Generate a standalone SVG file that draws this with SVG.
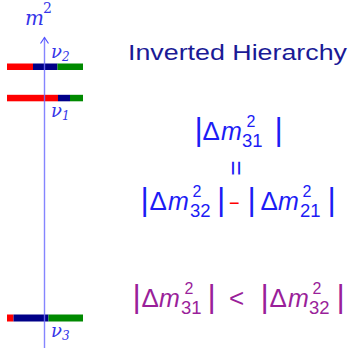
<svg xmlns="http://www.w3.org/2000/svg" width="352" height="348" viewBox="0 0 352 348">
<style>
.serif{font-family:"DejaVu Serif","Liberation Serif",serif;font-style:italic;fill:#3535e8}
.math{font-family:"Liberation Sans","DejaVu Sans",sans-serif;font-size:26px}
.bar{font-size:32px}
.sup{font-size:16px}
.sub{font-size:18.5px}
.it{font-style:italic;font-size:25px}
.blue{fill:#1c1cf5}
.purple{fill:#9a1f9a}
.red{fill:#ff0000}
.navy{fill:#000088}
.green{fill:#008a00}
</style>
<rect width="352" height="348" fill="#ffffff"/>
<g id="nu2">
<rect class="red" x="7" y="63.5" width="26" height="6.5"/>
<rect class="navy" x="33" y="63.5" width="24.5" height="6.5"/>
<rect class="green" x="57.5" y="63.5" width="25.5" height="6.5"/>
<text class="serif" x="51" y="58" font-size="18">ν<tspan font-size="12" dy="3">2</tspan></text>
</g>
<g id="nu1">
<rect class="red" x="7" y="94.8" width="51" height="6.5"/>
<rect class="navy" x="58" y="94.8" width="12" height="6.5"/>
<rect class="green" x="70" y="94.8" width="13" height="6.5"/>
<text class="serif" x="51" y="117" font-size="18">ν<tspan font-size="12" dy="3">1</tspan></text>
</g>
<g id="nu3">
<rect class="red" x="7" y="314.5" width="6.5" height="7"/>
<rect class="navy" x="13.5" y="314.5" width="35" height="7"/>
<rect class="green" x="48.5" y="314.5" width="34.5" height="7"/>
<text class="serif" x="51" y="337" font-size="18">ν<tspan font-size="12" dy="3">3</tspan></text>
</g>
<g id="connectors">
<path d="M44.5 348 V37.5" stroke="#7070ff" stroke-opacity="0.85" stroke-width="1.4" fill="none"/>
<path d="M40.5 43.5 L44.5 37.5 L48.5 43.5" stroke="#5050ff" stroke-width="1.2" fill="none"/>
</g>
<g id="axis-label">
<text class="serif" x="25" y="25" font-size="20">m<tspan font-size="14" font-style="normal" x="43" y="13">2</tspan></text>
</g>
<g id="title">
<text x="128" y="60" font-family="Liberation Sans, DejaVu Sans, sans-serif" font-size="22.5" fill="#1a1a96" textLength="219" lengthAdjust="spacingAndGlyphs">Inverted Hierarchy</text>
</g>
<g id="dm31">
<text class="math blue"><tspan class="bar" x="194.5" y="140">|</tspan><tspan x="202.5" y="140">Δ</tspan><tspan class="it" x="221" y="140">m</tspan><tspan class="sup" x="246.5" y="126.5">2</tspan><tspan class="sub" x="242" y="147">31</tspan><tspan class="bar" x="274.5" y="140">|</tspan></text>
</g>
<g id="equals">
<text class="math blue" font-size="29" x="238.3" y="177.9" text-anchor="middle" transform="rotate(90 238.3 168)">=</text>
</g>
<g id="difference">
<text class="math blue"><tspan class="bar" x="140.5" y="210">|</tspan><tspan x="149.5" y="210">Δ</tspan><tspan class="it" x="168" y="210">m</tspan><tspan class="sup" x="192.5" y="196.5">2</tspan><tspan class="sub" x="190" y="217">32</tspan><tspan class="bar" x="217" y="210">|</tspan><tspan class="red" font-size="18" x="229" y="209">−</tspan><tspan class="bar" x="247.5" y="210">|</tspan><tspan x="260.5" y="210">Δ</tspan><tspan class="it" x="278" y="210">m</tspan><tspan class="sup" x="302.5" y="196.5">2</tspan><tspan class="sub" x="300" y="217">21</tspan><tspan class="bar" x="327.5" y="210">|</tspan></text>
</g>
<g id="inequality">
<text class="math purple"><tspan class="bar" x="132.5" y="307">|</tspan><tspan x="141.5" y="307">Δ</tspan><tspan class="it" x="159" y="307">m</tspan><tspan class="sup" x="184.5" y="293.5">2</tspan><tspan class="sub" x="181" y="314">31</tspan><tspan class="bar" x="207.5" y="307">|</tspan><tspan x="229" y="307">&lt;</tspan><tspan class="bar" x="260.5" y="307">|</tspan><tspan x="269.5" y="307">Δ</tspan><tspan class="it" x="288" y="307">m</tspan><tspan class="sup" x="312.5" y="293.5">2</tspan><tspan class="sub" x="309" y="314">32</tspan><tspan class="bar" x="336.5" y="307">|</tspan></text>
</g>
</svg>
